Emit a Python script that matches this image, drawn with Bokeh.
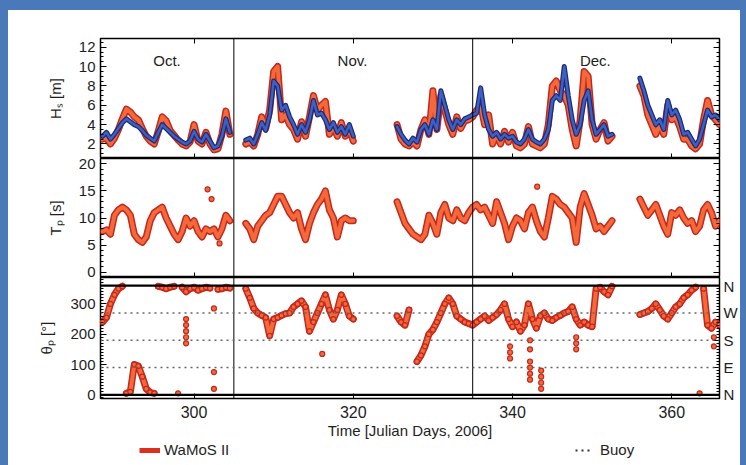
import numpy as np
from bokeh.plotting import figure
from bokeh.models import (Range1d, LinearAxis, SingleIntervalTicker, FixedTicker, Span, Label,
                          Legend, LegendItem, ColumnDataSource, CustomJSTickFormatter, Spacer)
from bokeh.layouts import column, row
from bokeh.embed import file_html
from bokeh.resources import INLINE

nan = float("nan")

# ---------------- data ----------------
day_oct = [288.5, 289.0, 289.5, 290.0, 290.5, 291.0, 291.5, 292.0, 292.5, 293.0, 293.5,
           294.0, 294.5, 295.0, 295.5, 296.0, 296.5, 297.0, 297.5, 298.0, 298.5, 299.0,
           299.5, 300.0, 300.5, 301.0, 301.5, 302.0, 302.5, 303.0, 303.5, 304.0, 304.5]
hs_buoy_oct = [2.8, 3.2, 2.5, 3.0, 3.6, 4.2, 4.6, 4.3, 4.0, 3.8, 3.4,
               2.9, 2.6, 2.3, 3.2, 4.0, 3.6, 3.2, 2.8, 2.5, 2.2, 2.0,
               2.3, 3.3, 2.5, 2.2, 3.0, 2.3, 1.6, 1.8, 2.8, 4.6, 3.2]
hs_wamos_oct = [2.5, 2.6, 2.0, 2.6, 3.5, 4.6, 5.6, 5.3, 4.8, 4.5, 3.6,
                2.8, 2.3, 2.0, 3.3, 4.8, 4.4, 3.4, 2.9, 2.4, 2.0, 1.8,
                2.2, 4.0, 2.3, 2.0, 3.2, 2.0, 1.4, 1.5, 3.0, 5.4, 3.0]
tp_oct = [7.5, 7.8, 7.0, 10.5, 11.5, 12.0, 11.5, 10.5, 7.0, 6.0, 5.5,
          6.5, 9.5, 11.0, 11.5, 12.0, 10.0, 8.5, 7.0, 6.0, 7.5, 10.0,
          8.5, 9.5, 7.5, 6.5, 8.0, 7.5, 8.0, 6.5, 8.0, 10.5, 9.5]
dir_oct = [240, 255, 300, 330, 350, 358, 5, 10, 100, 95, 60,
           20, 8, 5, 358, 355, 350, 355, 358, 5, 355, 340,
           350, 355, 345, 350, 355, 352, 20, 348, 350, 355, 352]

day_nov = [306.5, 307.0, 307.5, 308.0, 308.5, 309.0, 309.5, 310.0, 310.5, 311.0, 311.5,
           312.0, 312.5, 313.0, 313.5, 314.0, 314.5, 315.0, 315.5, 316.0, 316.5, 317.0,
           317.5, 318.0, 318.5, 319.0, 319.5, 320.0]
hs_buoy_nov = [2.4, 2.6, 2.0, 3.0, 4.2, 3.4, 5.0, 8.5, 8.0, 5.5, 6.0,
               4.8, 4.0, 3.0, 4.0, 3.2, 4.5, 6.5, 5.0, 5.2, 4.5, 3.5,
               4.2, 3.2, 3.8, 3.0, 4.0, 2.8]
hs_wamos_nov = [2.0, 2.2, 1.8, 3.0, 4.8, 3.6, 5.5, 9.5, 10.0, 4.5, 5.0,
                4.0, 3.5, 2.5, 4.3, 2.8, 4.8, 7.0, 5.5, 6.0, 6.4, 3.0,
                3.8, 2.8, 4.2, 2.8, 3.5, 2.3]
tp_nov = [9.0, 8.0, 6.0, 8.5, 9.5, 10.5, 11.0, 12.5, 14.0, 14.0, 12.5,
          11.0, 10.0, 11.0, 8.0, 6.0, 9.0, 11.0, 12.5, 13.5, 15.0, 11.5,
          10.0, 6.5, 9.5, 10.0, 9.5, 9.5]
dir_nov = [350, 320, 285, 270, 262, 255, 195, 250, 255, 262, 268,
           270, 290, 300, 310, 290, 210, 240, 270, 300, 330, 280,
           250, 280, 330, 300, 260, 250]

day_dec = [325.5, 326.0, 326.5, 327.0, 327.5, 328.0, 328.5, 329.0, 329.5, 330.0, 330.5,
           331.0, 331.5, 332.0, 332.5, 333.0, 333.5, 334.0, 334.5, 335.0, 335.5, 336.0,
           336.5, 337.0, 337.5, 338.0, 338.5, 339.0, 339.5, 340.0, 340.5, 341.0, 341.5,
           342.0, 342.5, 343.0, 343.5, 344.0, 344.5, 345.0, 345.5, 346.0, 346.5, 347.0,
           347.5, 348.0, 348.5, 349.0, 349.5, 350.0, 350.5, 351.0, 351.5, 352.0, 352.5]
hs_buoy_dec = [3.8, 3.0, 2.4, 2.0, 2.6, 2.2, 3.5, 4.0, 3.0, 4.5, 3.5,
               7.5, 6.0, 4.5, 3.5, 4.5, 4.0, 4.6, 4.8, 5.0, 5.2, 7.8,
               5.0, 3.5, 2.8, 3.2, 2.5, 3.0, 2.6, 2.8, 2.2, 2.0, 2.5,
               3.5, 2.5, 2.2, 2.0, 2.5, 3.5, 6.5, 7.0, 6.5, 10.0, 7.0,
               4.5, 3.0, 4.0, 6.5, 7.5, 4.5, 3.0, 3.5, 4.0, 2.8, 3.0]
hs_wamos_dec = [4.0, 2.5, 2.0, 1.8, 2.2, 1.8, 3.5, 4.5, 3.0, 7.5, 3.5,
                7.0, 5.5, 4.0, 3.0, 4.8, 3.6, 4.4, 4.5, 4.8, 5.5, 6.0,
                4.0, 5.0, 2.0, 3.0, 2.0, 3.3, 2.2, 3.2, 1.8, 1.6, 2.0,
                3.8, 2.0, 1.8, 1.6, 2.0, 4.0, 8.0, 8.5, 7.5, 7.0, 6.0,
                3.5, 1.8, 4.5, 9.5, 9.0, 4.0, 2.5, 3.5, 4.2, 2.3, 2.8]
tp_dec = [13.0, 11.0, 9.0, 8.0, 7.0, 6.5, 6.0, 7.0, 10.5, 9.0, 7.0,
          11.0, 12.5, 10.0, 9.5, 11.5, 10.0, 9.5, 11.0, 12.0, 12.5, 11.5,
          12.0, 10.5, 9.0, 13.0, 11.0, 9.0, 6.0, 8.5, 10.0, 9.5, 8.0,
          11.0, 12.0, 9.5, 7.5, 6.5, 10.0, 14.0, 13.5, 12.5, 12.0, 11.0,
          10.0, 5.5, 12.0, 14.5, 12.5, 10.5, 8.0, 8.5, 7.5, 8.5, 9.5]
dir_dec = [260, 240, 230, 280, nan, 110, 130, 160, 200, 215, 240,
           270, 300, 320, 300, 260, 250, 240, 235, 230, 240, 250,
           260, 245, 255, 265, 280, 300, 250, 225, 240, 210, 230,
           300, 250, 220, 260, 270, 250, 245, 255, 262, 270, 275,
           290, 250, 230, 240, 230, 225, 350, 355, 340, 330, 358]

day_end = [356.0, 356.5, 357.0, 357.5, 358.0, 358.5, 359.0, 359.5, 360.0, 360.5, 361.0,
           361.5, 362.0, 362.5, 363.0, 363.5, 364.0, 364.5, 365.0, 365.5, 366.0]
hs_buoy_end = [8.8, 7.5, 6.0, 5.0, 4.0, 4.5, 3.5, 6.5, 5.0, 5.5, 4.5,
               3.0, 3.2, 2.5, 1.8, 2.5, 4.0, 5.5, 4.8, 5.0, 4.5]
hs_wamos_end = [8.0, 7.0, 5.0, 4.0, 3.0, 4.0, 3.0, 6.0, 4.5, 4.8, 3.8,
                2.5, 2.5, 1.8, 1.5, 2.0, 4.5, 6.5, 5.0, 4.5, 4.0]
tp_end = [13.5, 12.0, 10.5, 11.5, 12.5, 10.5, 8.5, 7.0, 11.0, 10.5, 11.5,
          10.0, 9.0, 9.5, 7.5, 8.5, 11.5, 12.5, 11.0, 8.5, 9.5]
dir_end = [265, 270, 275, 285, 300, 280, 260, 250, 270, 290, 300,
           320, 330, 345, 355, 5, 350, 230, 220, 240, 230]

tp_single_day = [301.7, 302.2, 303.2, 343.1]
tp_single_val = [15.3, 13.5, 5.3, 15.8]
dir_single_day = [299.0, 299.0, 299.0, 299.0, 299.0, 302.5, 302.5, 316.1,
                  339.7, 339.7, 339.7, 342.2, 342.2, 342.2, 342.2, 342.2, 342.2,
                  343.6, 343.6, 343.6, 343.6, 348.0, 348.0, 348.0, 365.3, 365.3]
dir_single_val = [170, 190, 210, 230, 250, 285, 75, 135,
                  120, 140, 160, 50, 70, 90, 110, 150, 180,
                  80, 60, 40, 20, 150, 170, 190, 160, 190]

month_names = ["Oct.", "Nov.", "Dec."]
month_label_day = [296.6, 319.9, 350.4]
month_start = [305, 335]
compass_deg = [0, 90, 180, 270, 360]
compass_names = ["N", "E", "S", "W", "N"]
x_ticks = [300, 320, 340, 360]
legend_names = ["WaMoS II", "Buoy"]

# ---------------- helpers ----------------
segments_day = [day_oct, day_nov, day_dec, day_end]


def joined(parts):
    xs, ys = [], []
    for d, v in zip(segments_day, parts):
        xs += list(d) + [nan]
        ys += list(v) + [nan]
    return np.array(xs, dtype=float), np.array(ys, dtype=float)


def joined_wrapped(parts):
    xs, ys = [], []
    for d, v in zip(segments_day, parts):
        prev = None
        for x, y in zip(d, v):
            if prev is not None and abs(y - prev) > 180:
                xs.append(nan); ys.append(nan)
            xs.append(x); ys.append(y); prev = y
        xs.append(nan); ys.append(nan)
    return np.array(xs, dtype=float), np.array(ys, dtype=float)


FONT = "Liberation Sans"
TXT = "#1e1e1e"
RED_D, RED_L = "#c4281d", "#f4693a"
BLU_D, BLU_L = "#1c2b78", "#3e60c0"
FRAME_BLUE = "#4a79ba"

x_range = Range1d(288.25, 366.0)
blank = CustomJSTickFormatter(code="return ''")


def style_y(ax, interval, minor, labels=True):
    ax.ticker = SingleIntervalTicker(interval=interval, num_minor_ticks=minor)
    ax.major_tick_in = 6; ax.major_tick_out = 0
    ax.minor_tick_in = 3; ax.minor_tick_out = 0
    ax.axis_line_color = None
    ax.major_tick_line_color = "black"; ax.minor_tick_line_color = "black"
    ax.major_label_text_font = FONT
    ax.major_label_text_font_size = "15px"
    ax.major_label_text_color = TXT
    ax.major_label_standoff = 5
    ax.axis_label_text_font = FONT
    ax.axis_label_text_font_size = "15px"
    ax.axis_label_text_font_style = "normal"
    ax.axis_label_text_color = TXT
    ax.axis_label_standoff = 12
    if not labels:
        ax.formatter = blank
        ax.major_label_text_font_size = "1px"
        ax.major_label_standoff = 0


def style_x(ax, labels=False):
    ax.ticker = FixedTicker(ticks=x_ticks)
    ax.major_tick_in = 5; ax.major_tick_out = 0
    ax.minor_tick_in = 0; ax.minor_tick_out = 0
    ax.axis_line_color = None
    ax.major_label_text_font = FONT
    ax.major_label_text_font_size = "16px"
    ax.major_label_text_color = TXT
    ax.major_label_standoff = 7
    ax.axis_label_text_font = FONT
    ax.axis_label_text_font_size = "15px"
    ax.axis_label_text_font_style = "normal"
    ax.axis_label_text_color = TXT
    ax.axis_label_standoff = 1
    if not labels:
        ax.formatter = blank
        ax.major_label_text_font_size = "1px"
        ax.major_label_standoff = 0


def make_fig(height, yr, top, bottom):
    p = figure(width=732, height=height, x_range=x_range, y_range=yr,
               output_backend="svg", toolbar_location=None,
               x_axis_location=None, y_axis_location="left",
               min_border_left=92, min_border_right=19,
               min_border_top=top, min_border_bottom=bottom)
    p.xgrid.visible = False
    p.ygrid.visible = False
    p.outline_line_color = "black"
    p.outline_line_width = 1.5
    p.background_fill_color = "white"
    p.border_fill_color = "white"
    for d in month_start:
        p.add_layout(Span(location=d, dimension="height", line_color="black", line_width=1))
    return p


def thick_line(p, xs, ys, dark, light, w_out, w_in):
    src = ColumnDataSource(dict(x=xs, y=ys))
    p.line("x", "y", source=src, line_color=dark, line_width=w_out, line_join="round", line_cap="round")
    return p.line("x", "y", source=src, line_color=light, line_width=w_in, line_join="round", line_cap="round")


# ---------------- Hs panel ----------------
p1 = make_fig(148, Range1d(0.5, 12.9), 28, 0)
style_y(p1.yaxis[0], 2, 4)
p1.yaxis[0].axis_label = "Hₛ [m]"
r1 = LinearAxis(); style_y(r1, 2, 4, labels=False); p1.add_layout(r1, "right")
a1 = LinearAxis(); style_x(a1); p1.add_layout(a1, "above")
b1 = LinearAxis(); style_x(b1); p1.add_layout(b1, "below")
hx, hy = joined([hs_wamos_oct, hs_wamos_nov, hs_wamos_dec, hs_wamos_end])
thick_line(p1, hx, hy, RED_D, RED_L, 7, 4)
bx, by = joined([hs_buoy_oct, hs_buoy_nov, hs_buoy_dec, hs_buoy_end])
thick_line(p1, bx, by, BLU_D, BLU_L, 5, 2.5)
for name, d in zip(month_names, month_label_day):
    p1.add_layout(Label(x=d, y=10.6, text=name, text_align="center", text_baseline="middle",
                        text_font=FONT, text_font_size="15px", text_color=TXT))

# ---------------- Tp panel ----------------
p2 = make_fig(119, Range1d(-1.0, 21.0), 0, 0)
style_y(p2.yaxis[0], 5, 5)
p2.yaxis[0].axis_label = "Tₚ [s]"
r2 = LinearAxis(); style_y(r2, 5, 5, labels=False); p2.add_layout(r2, "right")
b2 = LinearAxis(); style_x(b2); p2.add_layout(b2, "below")
tx, ty = joined([tp_oct, tp_nov, tp_dec, tp_end])
thick_line(p2, tx, ty, RED_D, RED_L, 7, 4)
p2.scatter(tp_single_day, tp_single_val, size=5, fill_color=RED_L, line_color=RED_D, line_width=1.2)

# ---------------- direction panel ----------------
p3 = make_fig(164, Range1d(-12, 387), 0, 43)
style_y(p3.yaxis[0], 100, 10)
p3.yaxis[0].axis_label = "θₚ [°]"
r3 = LinearAxis()
style_y(r3, 90, 9)
r3.ticker = FixedTicker(ticks=compass_deg, minor_ticks=list(range(0, 361, 10)))
r3.major_label_overrides = {d: n for d, n in zip(compass_deg, compass_names)}
r3.major_label_standoff = 4
p3.add_layout(r3, "right")
b3 = LinearAxis(); style_x(b3, labels=True)
b3.axis_label = "Time [Julian Days, 2006]"
p3.add_layout(b3, "below")
for d in compass_deg:
    if d in (0, 360):
        p3.add_layout(Span(location=d, dimension="width", line_color="black", line_width=2.2))
    else:
        p3.add_layout(Span(location=d, dimension="width", line_color="#666666",
                           line_width=1.6, line_dash="dotted"))
dx, dy = joined_wrapped([dir_oct, dir_nov, dir_dec, dir_end])
thick_line(p3, dx, dy, RED_D, RED_L, 7, 4)
p3.scatter(dx, dy, size=5, fill_color=RED_L, line_color=RED_D, line_width=1.2)
p3.scatter(dir_single_day, dir_single_val, size=5, fill_color=RED_L, line_color=RED_D, line_width=1.2)

# ---------------- legend strip ----------------
p4 = figure(width=732, height=24, x_range=x_range, y_range=Range1d(0, 1),
            output_backend="svg", toolbar_location=None,
            x_axis_location=None, y_axis_location=None,
            min_border=0, min_border_left=0, min_border_right=0,
            min_border_top=0, min_border_bottom=0)
p4.xgrid.visible = False
p4.ygrid.visible = False
p4.outline_line_color = None
p4.background_fill_color = "white"
p4.border_fill_color = "white"
leg_w = p4.line([nan], [nan], line_color="#d9301f", line_width=5)
leg_b = p4.line([nan], [nan], line_color="#333333", line_width=2, line_dash="dotted")
for name, rend, loc, gw, so in [(legend_names[0], leg_w, (39, 7), 21, 4),
                                (legend_names[1], leg_b, (475, 7), 15, 10)]:
    lg = Legend(items=[LegendItem(label=name, renderers=[rend])], location=loc,
                glyph_width=gw, glyph_height=10, label_standoff=so,
                padding=0, margin=0, spacing=0,
                border_line_color=None, background_fill_alpha=0,
                label_text_font=FONT, label_text_font_size="15px", label_text_color=TXT)
    p4.add_layout(lg)

top_strip = Spacer(width=746, height=10, styles={"background-color": FRAME_BLUE})
left_strip = Spacer(width=8, height=455, styles={"background-color": FRAME_BLUE})
right_strip = Spacer(width=6, height=455, styles={"background-color": FRAME_BLUE})
layout = column(top_strip, row(left_strip, column(p1, p2, p3, p4, spacing=0), right_strip, spacing=0),
                spacing=0)
open("out.html", "w").write(file_html(layout, INLINE))
